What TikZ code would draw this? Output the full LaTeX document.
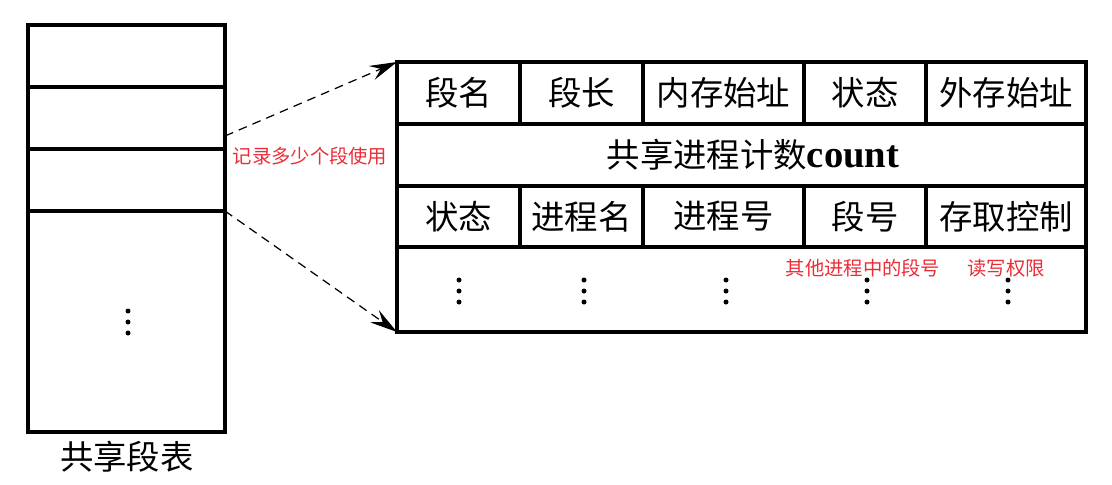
\documentclass[tikz,border=0pt]{standalone}
\usepackage{fontspec}
\setmainfont{Liberation Serif}
\newfontfamily\cjk{Noto Sans CJK SC}
\usetikzlibrary{arrows.meta}
\definecolor{notered}{RGB}{235,45,55}

\begin{document}
\begin{tikzpicture}[
    frame/.style={line width=2pt},
    cell/.style={font=\cjk\fontsize{19}{22}\selectfont, inner sep=0pt},
    note/.style={text=notered, font=\cjk\fontsize{11}{13}\selectfont, inner sep=0pt},
    link/.style={line width=0.7pt, dash pattern=on 5pt off 3.5pt, -{Stealth[length=5.5mm,width=3mm,inset=2mm]}}]
    \useasboundingbox (0,0) rectangle (22.24,-9.7);

    % shared segment table
    \draw[frame] (0.56,-0.5) rectangle (4.5,-8.64);
    \foreach \y in {-1.74,-2.98,-4.22}
        \draw[frame] (0.56,\y) -- (4.5,\y);
    \foreach \dy in {0,0.22,0.44}
        \fill (2.56,-6.22-\dy) circle (0.05);
    \node[cell] (ltitle) at (2.54,-9.14) {共享段表};
    \coordinate (rowA) at (4.5,-2.72);
    \coordinate (rowB) at (4.5,-4.22);

    % one entry of the table
    \draw[frame] (7.94,-1.24) rectangle (21.72,-6.64);
    \foreach \y in {-2.48,-3.72,-4.94}
        \draw[frame] (7.94,\y) -- (21.72,\y);
    \foreach \x in {10.4,12.86,16.08,18.52} {
        \draw[frame] (\x,-1.24) -- (\x,-2.48);
        \draw[frame] (\x,-3.72) -- (\x,-4.94);
    }
    \coordinate (entryNW) at (7.94,-1.24);
    \coordinate (entrySW) at (7.94,-6.64);

    \node[cell] (sname) at (9.17,-1.86) {段名};
    \node[cell] (slen) at (11.63,-1.86) {段长};
    \node[cell] (smem) at (14.47,-1.86) {内存始址};
    \node[cell] (sstate) at (17.3,-1.86) {状态};
    \node[cell] (sdisk) at (20.12,-1.86) {外存始址};

    \node[cell] (count) at (15.06,-3.1) {共享进程计数{\rmfamily\bfseries\fontsize{22}{24}\selectfont count}};

    \node[cell] (pstate) at (9.17,-4.33) {状态};
    \node[cell] (pname) at (11.63,-4.33) {进程名};
    \node[cell] (pid) at (14.47,-4.33) {进程号};
    \node[cell] (pseg) at (17.3,-4.33) {段号};
    \node[cell] (pacc) at (20.12,-4.33) {存取控制};

    \foreach \x in {9.18,11.68,14.52,17.34,20.16}
        \foreach \dy in {0,0.22,0.44}
            \fill (\x,-5.6-\dy) circle (0.05);

    \node[note] (nseg) at (17.26,-5.36) {其他进程中的段号};
    \node[note] (nacc) at (20.12,-5.36) {读写权限};

    % links
    \draw[link] (rowA) -- (entryNW);
    \draw[link] (rowB) -- (entrySW);
    \node[note] (nuse) at (6.2,-3.12) {记录多少个段使用};
\end{tikzpicture}
\end{document}
